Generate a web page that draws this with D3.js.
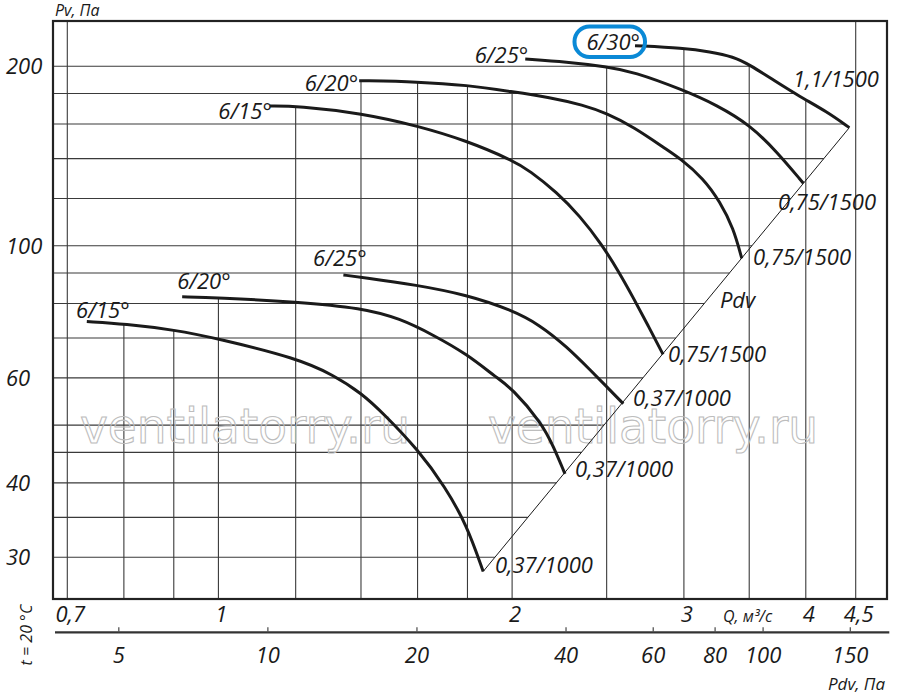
<!DOCTYPE html>
<html>
<head>
<meta charset="utf-8">
<script src="https://cdn.jsdelivr.net/npm/d3@7"></script>
<style>
html,body{margin:0;padding:0;background:#fff;}
svg{display:block;}
text{font-family:"Open Sans","Noto Sans",sans-serif;font-style:italic;fill:#1a1a1a;}
</style>
</head>
<body>
<svg id="chart" width="900" height="695"></svg>
<script>
// ---------------- DATA ----------------
const qGrid = [0.7,0.8,0.9,1,1.2,1.4,1.6,1.8,2,2.5,3,3.5,4,4.5];
const qTicks = [0.7,1,2,3,4,4.5];
const qTickLabels = ["0,7","1","2","3","4","4,5"];
const pvGrid = [30,35,40,45,50,60,70,80,90,100,120,140,160,180,200];
const pvTicks = [30,40,60,100,200];
const pvTickLabels = ["30","40","60","100","200"];
const pdvTicks = [5,10,20,40,60,80,100,150];
const pdvTickLabels = ["5","10","20","40","60","80","100","150"];

const bladeAngles = ["6/15°","6/20°","6/25°","6/15°","6/20°","6/25°","6/30°"];
const motors = ["0,37/1000","0,37/1000","0,37/1000","0,75/1500","0,75/1500","0,75/1500","1,1/1500"];

// [Q m3/s, Pv Pa]
const curve15_1000 = [[0.733,74.6],[0.802,73.9],[0.903,72.2],[0.996,69.9],[1.205,64.7],[1.311,60.7],[1.403,56.5],[1.476,52.3],[1.603,45.4],[1.707,39.4],[1.797,34.0],[1.868,28.4]];
const curve20_1000 = [[0.918,82.1],[0.996,81.8],[1.205,80.5],[1.403,78.6],[1.535,75.5],[1.661,70.8],[1.797,65.8],[1.929,60.0],[1.998,57.7],[2.145,50.4],[2.204,46.1],[2.266,41.4]];
const curve25_1000 = [[1.343,89.3],[1.403,88.5],[1.597,85.9],[1.797,82.7],[1.998,78.0],[2.136,73.6],[2.275,67.7],[2.404,61.9],[2.5,58.0],[2.6,54.3]];
const curve15_1500 = [[1.129,171.6],[1.206,171.6],[1.404,166.8],[1.603,158.8],[1.797,150.0],[1.998,139.3],[2.086,133.5],[2.222,122.9],[2.348,112.1],[2.471,100.5],[2.57,90.7],[2.661,81.9],[2.756,73.5],[2.856,65.7]];
const curve20_1500 = [[1.394,189.2],[1.603,188.4],[1.797,186.0],[1.998,181.3],[2.187,177.4],[2.366,172.2],[2.5,166.8],[2.662,158.4],[2.88,145.0],[2.972,140.2],[3.141,129.7],[3.267,118.5],[3.372,107.0],[3.439,95.2]];
const curve25_1500 = [[2.063,205.7],[2.275,203.4],[2.5,199.7],[2.662,195.9],[2.996,182.5],[3.242,172.2],[3.507,159.4],[3.735,143.8],[3.977,127.3]];
const curve30_1500 = [[2.673,216.6],[2.996,214.5],[3.191,211.6],[3.372,207.6],[3.507,201.0],[3.705,189.7],[3.946,177.8],[4.203,167.9],[4.433,157.8]];

// dynamic pressure line (Pdv) through curve ends
const pdvLine = [[1.868,28.4],[4.433,157.8]];

const watermarkText = "ventilatorry.ru";

// ---------------- LAYOUT ----------------
const frame = {x0:53, y0:21, x1:887, y1:599};
const x = d3.scaleLog().domain([0.7,4.5]).range([67.3,855.7]);
const y = d3.scaleLog().domain([30,200]).range([557.3,66.3]);
const xp = d3.scaleLog().domain([5,150]).range([118.8,850.3]);

const seriesList = [curve15_1000,curve20_1000,curve25_1000,curve15_1500,curve20_1500,curve25_1500,curve30_1500];
const labelLayout = [
  {sa:"start", sdx:-10.7, sdy:-3.7, edx:11.7, edy:1.6},
  {sa:"start", sdx:-5,    sdy:-7.4, edx:10,   edy:2.7},
  {sa:"start", sdx:-30.3, sdy:-8.5, edx:9.7,  edy:2.7},
  {sa:"end",   sdx:2,     sdy:13.3, edx:5,    edy:7.3},
  {sa:"end",   sdx:-1,    sdy:10,   edx:11.3, edy:6.7},
  {sa:"end",   sdx:3,     sdy:4.3,  edx:-25.3,edy:26.7},
  {sa:"end",   sdx:5,     sdy:4.3,  edx:-56.3,edy:-41}
];
const curves = seriesList.map((pts,i)=>({angle:bladeAngles[i], motor:motors[i], pts, lay:labelLayout[i]}));

const svg = d3.select("#chart");
svg.append("rect").attr("width",900).attr("height",695).attr("fill","#fff");
const gGrid = svg.append("g");
const gWm = svg.append("g");
const gCurves = svg.append("g");
const gText = svg.append("g");

const line = d3.line().x(d=>x(d[0])).y(d=>y(d[1])).curve(d3.curveBasis);

const paths = gCurves.selectAll("path.curve").data(curves).join("path")
  .attr("class","curve")
  .attr("d",d=>line(d.pts))
  .attr("fill","none").attr("stroke","#1a1a1a").attr("stroke-width",3);

// sample curves for grid clipping
paths.each(function(d){
  const L = this.getTotalLength(); const s=[];
  for(let i=0;i<=800;i++){const p=this.getPointAtLength(L*i/800); s.push([p.x,p.y]);}
  d.samples = s;
});
function yAtX(s,px){
  if(px < s[0][0] || px > s[s.length-1][0]) return null;
  for(let i=1;i<s.length;i++){
    const a=s[i-1], b=s[i];
    if((a[0]-px)*(b[0]-px)<=0){ if(b[0]===a[0]) return a[1]; return a[1]+(b[1]-a[1])*(px-a[0])/(b[0]-a[0]); }
  }
  return null;
}
function xAtY(s,py){
  for(let i=1;i<s.length;i++){
    const a=s[i-1], b=s[i];
    if((a[1]-py)*(b[1]-py)<=0){ if(b[1]===a[1]) return a[0]; return a[0]+(b[0]-a[0])*(py-a[1])/(b[1]-a[1]); }
  }
  return null;
}

// diagonal pixel endpoints
const dA = [x(pdvLine[0][0]), y(pdvLine[0][1])];
const dB = [x(pdvLine[1][0]), y(pdvLine[1][1])];

// vertical grid
qGrid.forEach(q=>{
  const px = x(q);
  const ys = curves.map(c=>yAtX(c.samples,px)).filter(v=>v!==null);
  const top = ys.length ? d3.min(ys) : frame.y0;
  gGrid.append("line").attr("x1",px).attr("x2",px).attr("y1",top).attr("y2",frame.y1)
    .attr("stroke","#3a3a3a").attr("stroke-width",1.1);
});
// horizontal grid
const outer = curves[6].samples;
pvGrid.forEach(v=>{
  const py = y(v);
  let ex;
  if(py <= dB[1]) ex = xAtY(outer,py);
  else ex = dA[0] + (dB[0]-dA[0])*(py-dA[1])/(dB[1]-dA[1]);
  if(ex===null) return;
  gGrid.append("line").attr("x1",frame.x0).attr("x2",ex).attr("y1",py).attr("y2",py)
    .attr("stroke","#3a3a3a").attr("stroke-width",1.1);
});

// watermark
[80,488].forEach(wx=>{
  gWm.append("text").attr("x",wx).attr("y",443.3).text(watermarkText)
    .attr("textLength",330).attr("lengthAdjust","spacingAndGlyphs")
    .style("font-family","'DejaVu Sans',sans-serif").style("font-style","normal")
    .style("font-size","48px").style("fill","none")
    .attr("stroke","#bdbdbd").attr("stroke-width",1.1);
});

// diagonal Pdv line
gCurves.append("line").attr("x1",dA[0]).attr("y1",dA[1]).attr("x2",dB[0]).attr("y2",dB[1])
  .attr("stroke","#1a1a1a").attr("stroke-width",1);

// frame
svg.append("rect").attr("x",frame.x0).attr("y",frame.y0)
  .attr("width",frame.x1-frame.x0).attr("height",frame.y1-frame.y0)
  .attr("fill","none").attr("stroke","#222").attr("stroke-width",2.2);

// curve labels
curves.forEach((c,i)=>{
  const s=c.pts[0], e=c.pts[c.pts.length-1], L=c.lay;
  const t = gText.append("text").attr("x",x(s[0])+L.sdx).attr("y",y(s[1])+L.sdy)
    .attr("text-anchor",L.sa).style("font-size","22px").text(c.angle);
  gText.append("text").attr("x",x(e[0])+L.edx).attr("y",y(e[1])+L.edy)
    .style("font-size","22px").text(c.motor);
  if(i===6){
    const b = t.node().getBBox();
    gText.append("rect").attr("x",b.x-12).attr("y",b.y+0.5)
      .attr("width",b.width+17).attr("height",b.height+0.5)
      .attr("rx",15).attr("ry",15)
      .attr("fill","none").attr("stroke","#0a89d6").attr("stroke-width",4);
  }
});
// Pdv label on diagonal
{
  const t=0.6, px=dA[0]+(dB[0]-dA[0])*t, py=dA[1]+(dB[1]-dA[1])*t;
  gText.append("text").attr("x",px+17).attr("y",py+2.6).style("font-size","22px").text("Pdv");
}

// Y axis labels
pvTicks.forEach((v,i)=>{
  gText.append("text").attr("x",6).attr("y",y(v)+8).style("font-size","22px").text(pvTickLabels[i]);
});
gText.append("text").attr("x",55).attr("y",16).style("font-size","16px").text("Pv, Па");

// Q axis labels
qTicks.forEach((q,i)=>{
  gText.append("text").attr("x",x(q)+3).attr("y",621.7).attr("text-anchor","middle")
    .style("font-size","22px").text(qTickLabels[i]);
});
gText.append("text").attr("x",723).attr("y",621.7).style("font-size","16px").text("Q, м³/с");

// Pdv axis
svg.append("line").attr("x1",55).attr("x2",889.3).attr("y1",632.3).attr("y2",632.3)
  .attr("stroke","#333").attr("stroke-width",2.2);
pdvTicks.forEach((v,i)=>{
  svg.append("line").attr("x1",xp(v)).attr("x2",xp(v)).attr("y1",627.3).attr("y2",632.3)
    .attr("stroke","#555").attr("stroke-width",1.3);
  gText.append("text").attr("x",xp(v)).attr("y",663.3).attr("text-anchor","middle")
    .style("font-size","22px").text(pdvTickLabels[i]);
});
gText.append("text").attr("x",885).attr("y",690).attr("text-anchor","end")
  .style("font-size","17px").text("Pdv, Па");
gText.append("text").attr("transform","translate(32,635) rotate(-90)").attr("text-anchor","middle")
  .style("font-size","16px").text("t = 20 °C");
</script>
</body>
</html>
